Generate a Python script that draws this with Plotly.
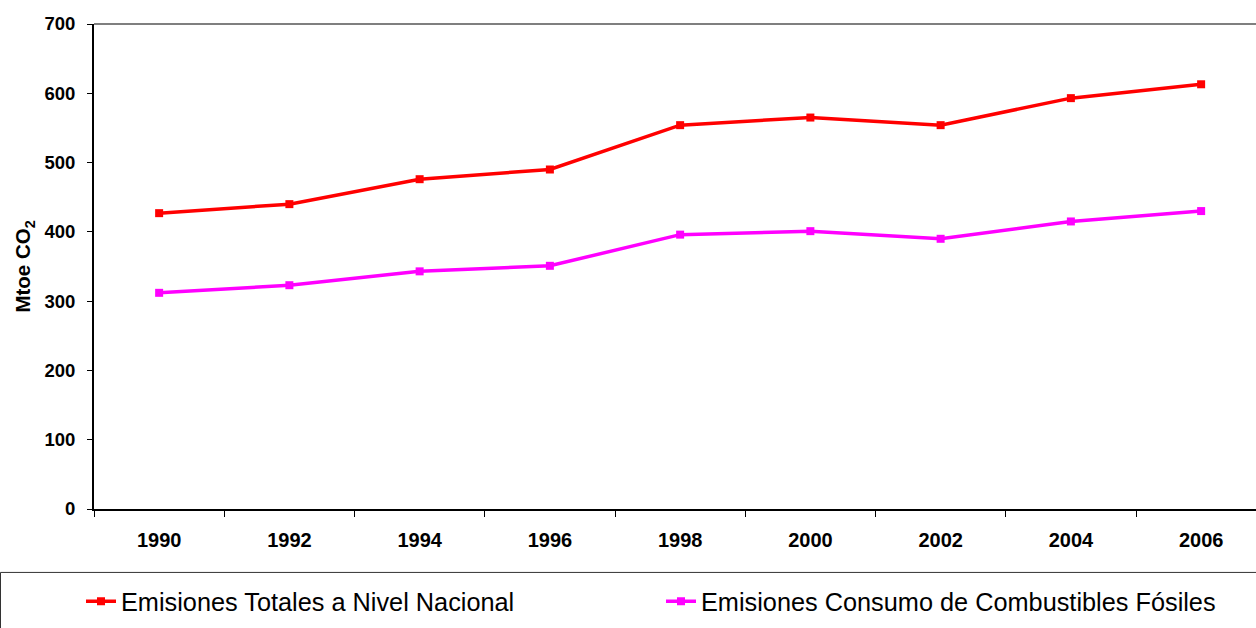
import plotly.graph_objects as go

years = ["1990", "1992", "1994", "1996", "1998", "2000", "2002", "2004", "2006"]
emis_totales = [427, 440, 476, 490, 554, 565, 554, 593, 613]
emis_fosiles = [312, 323, 343, 351, 396, 401, 390, 415, 430]

series_names = ["Emisiones Totales a Nivel Nacional",
                "Emisiones Consumo de Combustibles Fósiles"]
series_colors = ["#FF0000", "#FF00FF"]

FONT = "Arial, Liberation Sans, sans-serif"

fig = go.Figure()
for name, vals, col in zip(series_names, [emis_totales, emis_fosiles], series_colors):
    fig.add_trace(go.Scatter(
        x=years, y=vals, name=name, mode="lines+markers",
        line=dict(color=col, width=3.5),
        marker=dict(symbol="square", size=8, color=col),
    ))

W, H = 1256, 628
ml, mt = 94, 24
plot_bottom = 509.5
mb = H - plot_bottom
pw = W - ml
ph = plot_bottom - mt
cat_px = 130.25
xmax = -0.5 + pw / cat_px

def px_to_paper_x(px):
    return (px - ml) / pw

def px_to_paper_y(py):
    return (plot_bottom - py) / ph

fig.update_layout(
    width=W, height=H,
    margin=dict(l=ml, r=0, t=mt, b=mb, pad=0),
    paper_bgcolor="white", plot_bgcolor="white",
    font=dict(family=FONT, color="black"),
    showlegend=True,
    legend=dict(
        orientation="h",
        x=px_to_paper_x(81), xanchor="left",
        y=px_to_paper_y(602), yanchor="middle",
        font=dict(size=25.3, family=FONT, color="black"),
        entrywidth=535, entrywidthmode="pixels",
        bgcolor="rgba(0,0,0,0)", borderwidth=0,
    ),
    xaxis=dict(
        type="category", range=[-0.5, xmax],
        showline=True, linecolor="black", linewidth=1.5,
        ticks="outside", tickson="boundaries", ticklen=6, tickcolor="black", tickwidth=1,
        showgrid=False, zeroline=False,
        tickfont=dict(size=20, family=FONT, color="black", weight="bold"),
        ticklabelstandoff=12,
    ),
    yaxis=dict(
        range=[0, 700], dtick=100, tick0=0,
        showline=True, linecolor="black", linewidth=2,
        ticks="outside", ticklen=5, tickcolor="black", tickwidth=1,
        showgrid=False, zeroline=False,
        tickfont=dict(size=18.5, family=FONT, color="black", weight="bold"),
        ticklabelstandoff=8,
        title=dict(text="Mtoe CO<sub>2</sub>", standoff=8,
                   font=dict(size=20.5, family=FONT, color="black", weight="bold")),
    ),
    shapes=[
        dict(type="line", xref="paper", yref="paper", x0=0, x1=1.01, y0=1, y1=1,
             line=dict(color="#555555", width=1.5)),
        dict(type="rect", xref="paper", yref="paper",
             x0=px_to_paper_x(0.5), x1=1.02,
             y0=px_to_paper_y(573), y1=px_to_paper_y(640),
             line=dict(color="#333333", width=1), fillcolor="rgba(0,0,0,0)", layer="below"),
    ],
)

fig.write_html("out.html",
               config={"displayModeBar": False},
               post_script="document.body.style.margin='0';document.body.style.overflow='hidden';")
